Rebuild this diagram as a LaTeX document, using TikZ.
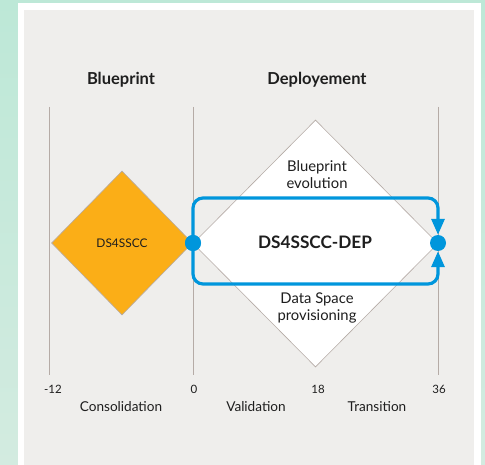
\documentclass[tikz,border=0pt]{standalone}
\usepackage{fontspec}
\setmainfont{Lato}
\usetikzlibrary{shapes.geometric,arrows.meta}
\definecolor{bgreen}{HTML}{BDE8D7}
\definecolor{bgreen2}{HTML}{D3EBE0}
\definecolor{panel}{HTML}{EFEEEC}
\definecolor{gline}{HTML}{B5ABA6}
\definecolor{dorange}{HTML}{FBAE17}
\definecolor{dblue}{HTML}{0096DC}
\definecolor{ink}{HTML}{1E1E1E}
\tikzset{
  axisline/.style={draw=gline, line width=0.9pt},
  ticklbl/.style={font=\fontsize{11.5}{13}\selectfont, text=ink, inner sep=0pt},
  phase/.style={font=\fontsize{13.6}{16}\selectfont, text=ink, inner sep=0pt},
  title/.style={font=\bfseries\fontsize{16.5}{19}\selectfont, text=ink, inner sep=0pt},
  dia/.style={diamond, draw=gline, line width=0.6pt, inner sep=0pt},
  inner/.style={font=\fontsize{14.8}{17}\selectfont, text=ink, align=center, inner sep=0pt},
  dot/.style={circle, fill=dblue, minimum size=16pt, inner sep=0pt},
  flow/.style={draw=dblue, line width=3.2pt, rounded corners=10pt},
  flowarrow/.style={flow, -{Triangle[width=13pt,length=16pt]}},
}
\begin{document}
\begin{tikzpicture}[x=1pt,y=-1pt]
\useasboundingbox (0,0) rectangle (485,465);
\shade[top color=bgreen, bottom color=bgreen2] (0,0) rectangle (485,465);
\fill[white] (18,3) rectangle (481,465);
\fill[panel] (24,10) rectangle (474,465);

% axis lines
\coordinate (a1t) at (49,107);  \coordinate (a1b) at (49,375);
\coordinate (a2t) at (193,107); \coordinate (a2b) at (193,375);
\coordinate (a3t) at (438,107); \coordinate (a3b) at (438,375);
\draw[axisline] (a1t) -- (a1b);
\draw[axisline] (a2t) -- (a2b);
\draw[axisline] (a3t) -- (a3b);

% titles
\node[title] (tbp) at (121,80) {Blueprint};
\node[title] (tdep) at (317,80) {Deployement};

% tick labels
\node[ticklbl] (t1) at (53,389) {-12};
\node[ticklbl] (t2) at (194,389) {0};
\node[ticklbl] (t3) at (318,389) {18};
\node[ticklbl] (t4) at (439,389) {36};

% phase labels
\node[phase] (p1) at (121,407) {Consolidation};
\node[phase] (p2) at (256,407) {Validation};
\node[phase] (p3) at (377,407) {Transition};

% white diamond
\node[dia, fill=white, minimum width=245pt, minimum height=247pt] (dep) at (315.5,243.5) {};
\node[inner] (bpe) at (317,174.5) {Blueprint\\evolution};
\node[inner] (dsp) at (317,307.5) {Data Space\\provisioning};

% orange diamond
\node[dia, fill=dorange, minimum width=141pt, minimum height=144pt] (bp) at (122,243)
  {\fontsize{11.9}{13}\selectfont\color{ink}DS4SSCC};

% flow
\node[dot] (dotL) at (193,243) {};
\node[dot] (dotR) at (438,243) {};
\coordinate (tr) at (438,198);
\coordinate (br) at (438,284);
\draw[flowarrow] (dotL.center) |- (tr) -- (dotR);
\draw[flowarrow] (dotL.center) |- (br) -- (dotR);
\node[dot] at (dotL) {};

\node[font=\bfseries\fontsize{17.2}{20}\selectfont, text=ink, inner sep=0pt] (dsdep) at (315,242) {DS4SSCC-DEP};
\end{tikzpicture}
\end{document}
